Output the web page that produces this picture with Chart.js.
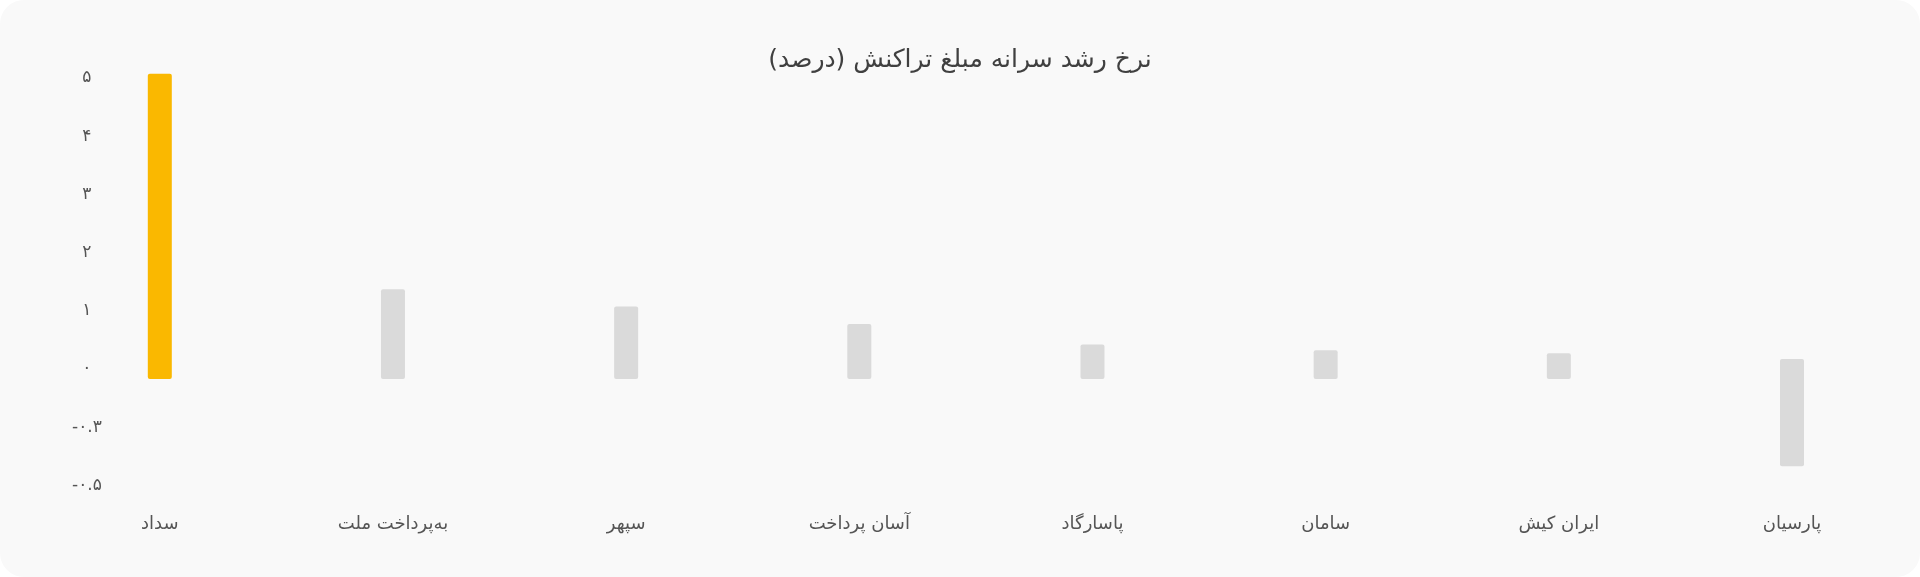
<!DOCTYPE html>
<html lang="fa">
<head>
<meta charset="utf-8">
<title>نرخ رشد سرانه مبلغ تراکنش</title>
<script src="https://cdn.jsdelivr.net/npm/chart.js@4.4.1/dist/chart.umd.min.js"></script>
<style>
  html,body{margin:0;padding:0;background:#fff;}
  .card{position:relative;width:1920px;height:577px;background:#f9f9f9;border-radius:24px;overflow:hidden;}
  .card h1{position:absolute;left:0;top:44px;width:1920px;margin:0;text-align:center;
    font:normal 25px/30px 'DejaVu Sans',sans-serif;color:#404040;direction:rtl;}
  canvas{display:block;}
</style>
</head>
<body>
<div class="card">
  <h1 id="chartTitle"></h1>
  <canvas id="growthChart" width="1920" height="577"></canvas>
</div>
<script>
// data
const banks = ['سداد','به‌پرداخت ملت','سپهر','آسان پرداخت','پاسارگاد','سامان','ایران کیش','پارسیان'];
const growth = [4.9, 1.2, 0.9, 0.6, 0.25, 0.15, 0.1, -0.4];
const yTickValues = [5, 4, 3, 2, 1, 0, -0.3, -0.5];
const yTickLabels = ['۵','۴','۳','۲','۱','۰','-۰.۳','-۰.۵'];
const chartTitle = 'نرخ رشد سرانه مبلغ تراکنش (درصد)';

const highlight = '#fab800';
const muted = '#dadada';
const fontFamily = "'DejaVu Sans', sans-serif";

// ticks are evenly spaced on screen, so map a value to its slot between ticks
function toAxis(v){
  const top = yTickValues[0];
  for(let k=0;k<yTickValues.length-1;k++){
    const a = yTickValues[k], b = yTickValues[k+1];
    if(v<=a && v>=b) return (top-k) - (a-v)/(a-b);
  }
  return v>top ? v : top-(yTickValues.length-1);
}

function renderChart(){
  document.getElementById('chartTitle').textContent = chartTitle;
  const ctx = document.getElementById('growthChart').getContext('2d');
  new Chart(ctx,{
    type:'bar',
    data:{
      labels: banks,
      datasets:[{
        data: growth.map(toAxis),
        backgroundColor: growth.map((v,i)=>i===0?highlight:muted),
        barThickness: 4,
        inflateAmount: 10,
        borderRadius: 4,
        borderSkipped: false,
        clip: false
      }]
    },
    options:{
      responsive:false,
      animation:false,
      devicePixelRatio:1,
      layout:{padding:{left:14,right:128,top:78,bottom:14}},
      plugins:{
        legend:{display:false},
        tooltip:{enabled:false},
        title:{display:false}
      },
      scales:{
        x:{
          offset:false,
          grid:{display:false,drawTicks:false},
          border:{display:false},
          ticks:{color:'#555',font:{family:fontFamily,size:18},padding:28,maxRotation:0,autoSkip:false}
        },
        y:{
          min: toAxis(yTickValues[yTickValues.length-1]),
          max: yTickValues[0],
          grid:{display:false,drawTicks:false},
          border:{display:false},
          afterBuildTicks:(scale)=>{
            scale.ticks = yTickValues.map(v=>({value:toAxis(v)}));
          },
          ticks:{
            color:'#555',
            font:{family:fontFamily,size:17},
            padding:58,
            crossAlign:'center',
            callback:(val)=>{
              const k = yTickValues.findIndex(v=>Math.abs(toAxis(v)-val)<1e-6);
              return k<0 ? '' : yTickLabels[k];
            }
          }
        }
      }
    }
  });
}

document.addEventListener('DOMContentLoaded',renderChart);
</script>
</body>
</html>
